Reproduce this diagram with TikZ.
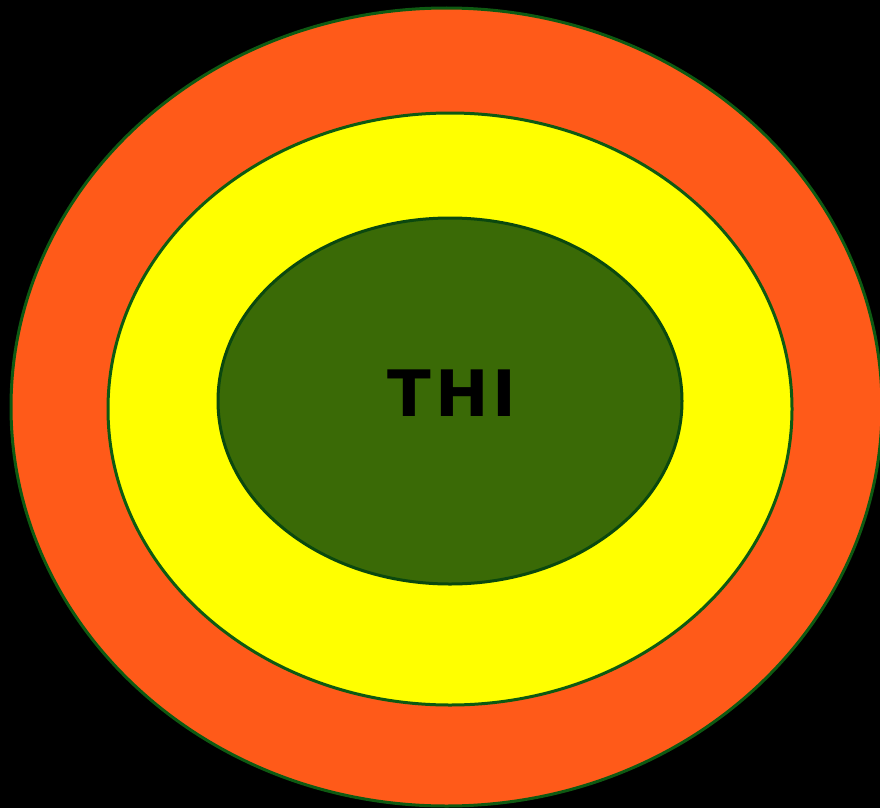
\documentclass[tikz,border=0pt]{standalone}
\usepackage{fontspec}
\newfontfamily\labelfont[LetterSpace=6]{DejaVu Sans}
\usepackage{xcolor}
\definecolor{rim}{HTML}{0E5A12}
\definecolor{flame}{HTML}{FF5A19}
\definecolor{lemon}{HTML}{FFFF00}
\definecolor{moss}{HTML}{3A6A06}

\begin{document}
\begin{tikzpicture}[x=1pt,y=-1pt,line width=3pt]
\useasboundingbox (0,0) rectangle (880,808);
\fill[black] (0,0) rectangle (880,808);
\clip (0,0) rectangle (880,808);
\filldraw[fill=flame,draw=rim] (446.5,407) ellipse [x radius=435.5,y radius=399];
\filldraw[fill=lemon,draw=rim] (450,409) ellipse [x radius=342,y radius=296];
\filldraw[fill=moss,draw=rim!80!black] (450,401) ellipse [x radius=232,y radius=183];
\node[font=\labelfont\bfseries\fontsize{64}{64}\selectfont,inner sep=0pt] (thi) at (452,393) {THI};
\end{tikzpicture}
\end{document}
